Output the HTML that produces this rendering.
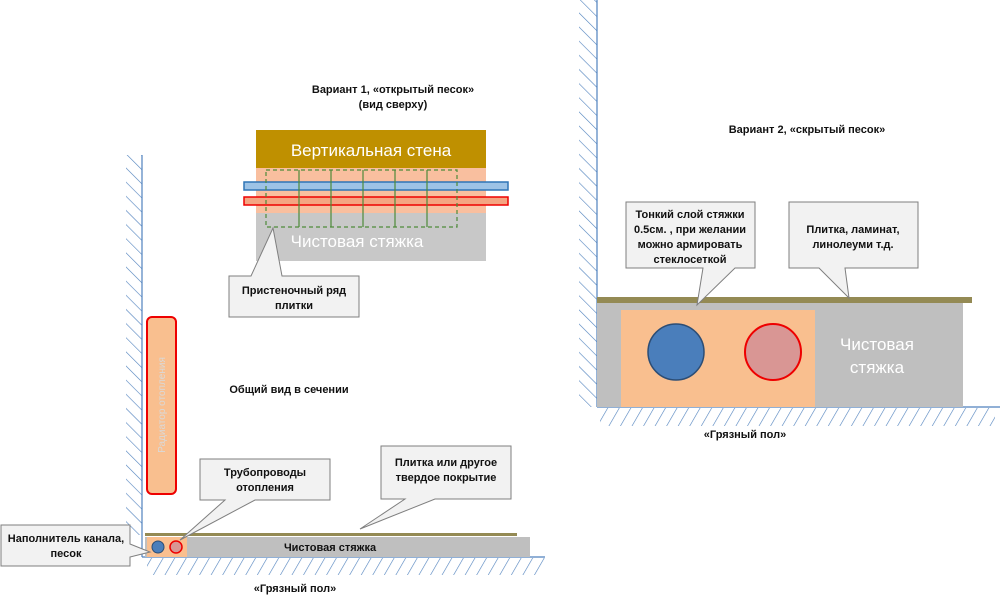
<!DOCTYPE html>
<html><head><meta charset="utf-8"><style>
html,body{margin:0;padding:0;background:#fff;}
svg{display:block;font-family:"Liberation Sans","Noto Sans CJK SC",sans-serif;}
.b{font-weight:bold;font-size:11px;fill:#111;}
</style></head><body>
<svg width="1000" height="599" viewBox="0 0 1000 599" xmlns="http://www.w3.org/2000/svg">
<defs>
<pattern id="hw" width="10" height="10" patternUnits="userSpaceOnUse" patternTransform="rotate(-45)">
<line x1="0" y1="0" x2="0" y2="10" stroke="#4f81bd" stroke-width="1.2"/></pattern>
<pattern id="hf" width="10" height="10" patternUnits="userSpaceOnUse" patternTransform="rotate(30)">
<line x1="0" y1="0" x2="0" y2="10" stroke="#4f81bd" stroke-width="1.2"/></pattern>
</defs>

<!-- RIGHT diagram -->
<rect x="579" y="0" width="18" height="407" fill="url(#hw)"/>
<line x1="597" y1="0" x2="597" y2="407" stroke="#4f81bd" stroke-width="1.2"/>
<rect x="600" y="408" width="395" height="18" fill="url(#hf)"/>
<line x1="597" y1="407" x2="1000" y2="407" stroke="#4f81bd" stroke-width="1.2"/>
<rect x="597" y="303" width="366" height="104" fill="#bfbfbf"/>
<rect x="597" y="297" width="375" height="6" fill="#948a54"/>
<rect x="621" y="310" width="194" height="97" fill="#f9bf8f"/>
<circle cx="676" cy="352" r="28" fill="#4a7ebb" stroke="#2c4d75" stroke-width="1.5"/>
<circle cx="773" cy="352" r="28" fill="#d99694" stroke="#e00" stroke-width="2"/>
<text x="877" y="350" font-size="17" fill="#fff" text-anchor="middle">Чистовая</text>
<text x="877" y="373" font-size="17" fill="#fff" text-anchor="middle">стяжка</text>
<path d="M626,202 H755 V268 H735 L697,305 L703,268 H626 Z" fill="#f2f2f2" stroke="#7f7f7f"/>
<text class="b" text-anchor="middle" x="690" y="218">Тонкий слой стяжки</text>
<text class="b" text-anchor="middle" x="690" y="233">0.5см. , при желании</text>
<text class="b" text-anchor="middle" x="690" y="248">можно армировать</text>
<text class="b" text-anchor="middle" x="690" y="263">стеклосеткой</text>
<path d="M789,202 H918 V268 H845 L849,298 L819,268 H789 Z" fill="#f2f2f2" stroke="#7f7f7f"/>
<text class="b" text-anchor="middle" x="853" y="233">Плитка, ламинат,</text>
<text class="b" text-anchor="middle" x="853" y="248">линолеуми т.д.</text>
<text class="b" text-anchor="middle" x="745" y="438">«Грязный пол»</text>
<text class="b" text-anchor="middle" x="807" y="133">Вариант 2, «скрытый песок»</text>

<!-- TOP VIEW -->
<text class="b" text-anchor="middle" x="393" y="93">Вариант 1, «открытый песок»</text>
<text class="b" text-anchor="middle" x="393" y="108">(вид сверху)</text>
<rect x="256" y="130" width="230" height="38" fill="#bf9000"/>
<text x="371" y="156" font-size="17" fill="#fff" text-anchor="middle">Вертикальная стена</text>
<rect x="256" y="168" width="230" height="93" fill="#c8c8c8"/>
<rect x="256" y="168" width="230" height="45" fill="#f9bf9f"/>
<rect x="244" y="182" width="264" height="8" fill="#9dc3e6" stroke="#2e75b6" stroke-width="1.5"/>
<rect x="244" y="197" width="264" height="8" fill="#f4a582" stroke="#e00" stroke-width="1.5"/>
<g stroke="#4e8a3a" stroke-width="1.2" fill="none" stroke-dasharray="4,3">
<rect x="266" y="170" width="191" height="57"/>
</g>
<g stroke="#4e8a3a" stroke-width="1.2">
<line x1="299" y1="170" x2="299" y2="227"/><line x1="331" y1="170" x2="331" y2="227"/>
<line x1="363" y1="170" x2="363" y2="227"/><line x1="395" y1="170" x2="395" y2="227"/>
<line x1="427" y1="170" x2="427" y2="227"/>
</g>
<text x="357" y="247" font-size="17" fill="#fff" text-anchor="middle">Чистовая стяжка</text>
<path d="M229,276 H251 L273,228 L282,276 H359 V317 H229 Z" fill="#f2f2f2" stroke="#7f7f7f"/>
<text class="b" text-anchor="middle" x="294" y="294">Пристеночный ряд</text>
<text class="b" text-anchor="middle" x="294" y="309">плитки</text>

<!-- LEFT SECTION -->
<rect x="126" y="155" width="16" height="380" fill="url(#hw)"/>
<line x1="142" y1="155" x2="142" y2="557" stroke="#4f81bd" stroke-width="1.2"/>
<rect x="147" y="558" width="398" height="17" fill="url(#hf)"/>
<line x1="142" y1="557" x2="545" y2="557" stroke="#4f81bd" stroke-width="1.2"/>
<rect x="145" y="537" width="385" height="20" fill="#bfbfbf"/>
<rect x="145" y="533" width="372" height="3" fill="#948a54"/>
<rect x="147" y="537" width="40" height="20" fill="#f9bf8f"/>
<circle cx="158" cy="547" r="6" fill="#4a7ebb" stroke="#2c4d75"/>
<circle cx="176" cy="547" r="6" fill="#d99694" stroke="#e00" stroke-width="1.5"/>
<text class="b" text-anchor="middle" x="330" y="551">Чистовая стяжка</text>
<rect x="147" y="317" width="29" height="177" rx="5" fill="#f9bf8f" stroke="#e00" stroke-width="2"/>
<text x="0" y="0" font-size="10" fill="#d9d9d9" text-anchor="middle" transform="translate(165,405) rotate(-90)">Радиатор отопления</text>
<text class="b" text-anchor="middle" x="289" y="393">Общий вид в сечении</text>
<path d="M200,459 H330 V500 H255 L180,540 L225,500 H200 Z" fill="#f2f2f2" stroke="#7f7f7f"/>
<text class="b" text-anchor="middle" x="265" y="476">Трубопроводы</text>
<text class="b" text-anchor="middle" x="265" y="491">отопления</text>
<path d="M381,446 H511 V499 H435 L360,529 L405,499 H381 Z" fill="#f2f2f2" stroke="#7f7f7f"/>
<text class="b" text-anchor="middle" x="446" y="466">Плитка или другое</text>
<text class="b" text-anchor="middle" x="446" y="481">твердое покрытие</text>
<path d="M1,525 H130 V544 L150,552 L130,557 V566 H1 Z" fill="#f2f2f2" stroke="#7f7f7f"/>
<text class="b" text-anchor="middle" x="66" y="542">Наполнитель канала,</text>
<text class="b" text-anchor="middle" x="66" y="557">песок</text>
<text class="b" text-anchor="middle" x="295" y="592">«Грязный пол»</text>
</svg>
</body></html>
